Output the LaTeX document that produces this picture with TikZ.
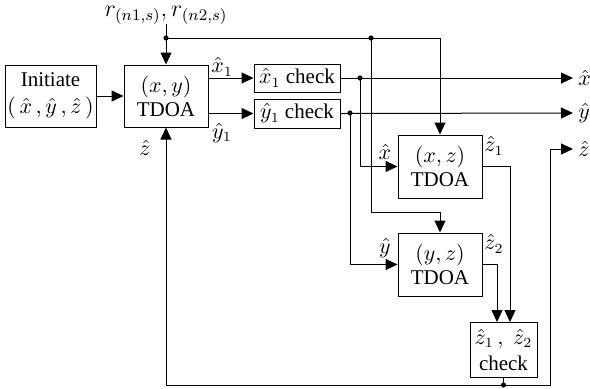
\documentclass[tikz,border=0pt]{standalone}
\usepackage{fontspec}
\setmainfont{Liberation Serif}
\usepackage{tikz}
\usetikzlibrary{arrows.meta,positioning}
\tikzset{
    blk/.style={
        draw,
        line width=0.5pt,
        align=center,
        inner sep=1pt,
        font=\fontsize{10.5}{12}\selectfont
    },
    % filled arrow heads as in the block diagram
    arr/.style={
        line width=0.5pt,
        -{Triangle[length=6pt, width=5.5pt]}
    },
    wire/.style={line width=0.5pt},
    lbl/.style={font=\fontsize{10.5}{12}\selectfont, inner sep=0pt}
}

\begin{document}
\begin{tikzpicture}[x=0.5pt,y=-0.5pt]
   \useasboundingbox (0,0) rectangle (590,388);
   % blocks
   \node[blk, minimum width=45.5pt, minimum height=31pt] (init) at (50.5,96) {Initiate\\[1.5pt]$(\,\hat{x}\,,\hat{y}\,,\hat{z}\,)$};
   \node[blk, minimum width=42pt, minimum height=31pt] (xy) at (166,96) {$(x,y)$\\TDOA};
   \node[blk, minimum width=43pt, minimum height=14pt] (xchk) at (297,78) {$\hat{x}_1$ check};
   \node[blk, minimum width=43pt, minimum height=14.5pt] (ychk) at (297,113.5) {$\hat{y}_1$ check};
   \node[blk, minimum width=42pt, minimum height=31.5pt] (xz) at (440,166.5) {$(x,z)$\\TDOA};
   \node[blk, minimum width=42pt, minimum height=31.5pt] (yz) at (440,264.5) {$(y,z)$\\TDOA};
   \node[blk, minimum width=33.5pt, minimum height=27.5pt] (chk) at (503.5,349.5) {$\hat{z}_1\,,\;\hat{z}_2$\\[1pt]check};

   \node[lbl, font=\fontsize{11.5}{12}\selectfont] (r) at (166,15) {$r_{(n1,s)},r_{(n2,s)}$};

   % junctions and bends
   \coordinate (rdot) at (166,38);
   \coordinate (rdot2) at (371,38);
   \coordinate (ryz) at (440,212);
   \coordinate (xd) at (360,78);
   \coordinate (yd) at (350,113);
   \coordinate (zd) at (503.5,385);
   \coordinate (zup) at (550,149);
   \coordinate (z1in) at (510,322);
   \coordinate (z2in) at (497,322);
   \coordinate (xout) at (573,78);
   \coordinate (yout) at (573,113);
   \coordinate (zout) at (573,149);

   % connectors
   \draw[arr] (init) -- (xy);
   \draw[arr] (r) -- (xy);
   \draw[arr] (rdot) -| (xz.north);
   \draw[arr] (rdot2) |- (ryz) -- (yz.north);
   \draw[arr] (xy.east |- xchk.west) -- (xchk.west);
   \draw[arr] (xy.east |- ychk.west) -- (ychk.west);
   \draw[arr] (xchk.east) -- (xout);
   \draw[arr] (ychk.east) -- (yout);
   \draw[arr] (xd) |- (xz.west);
   \draw[arr] (yd) |- (yz.west);
   \draw[arr] (xz.east) -| (z1in);
   \draw[arr] (yz.east) -| (z2in);
   \draw[wire] (chk.south) -- (zd);
   \draw[arr] (zd) -| (xy.south);
   \draw[arr] (zd) -| (zup) -- (zout);

   % dots
   \foreach \p in {rdot,rdot2,xd,yd,zd}
      \fill (\p) circle (1.3pt);

   % labels
   \node[lbl] at (222,67) {$\hat{x}_1$};
   \node[lbl] at (222,133) {$\hat{y}_1$};
   \node[lbl] at (145,148) {$\hat{z}$};
   \node[lbl] at (385,152) {$\hat{x}$};
   \node[lbl] at (385,248) {$\hat{y}$};
   \node[lbl] at (494,146) {$\hat{z}_1$};
   \node[lbl] at (494,244) {$\hat{z}_2$};
   \node[lbl, anchor=west] at (578,78) {$\hat{x}$};
   \node[lbl, anchor=west] at (578,113) {$\hat{y}$};
   \node[lbl, anchor=west] at (578,149) {$\hat{z}$};
\end{tikzpicture}
\end{document}
